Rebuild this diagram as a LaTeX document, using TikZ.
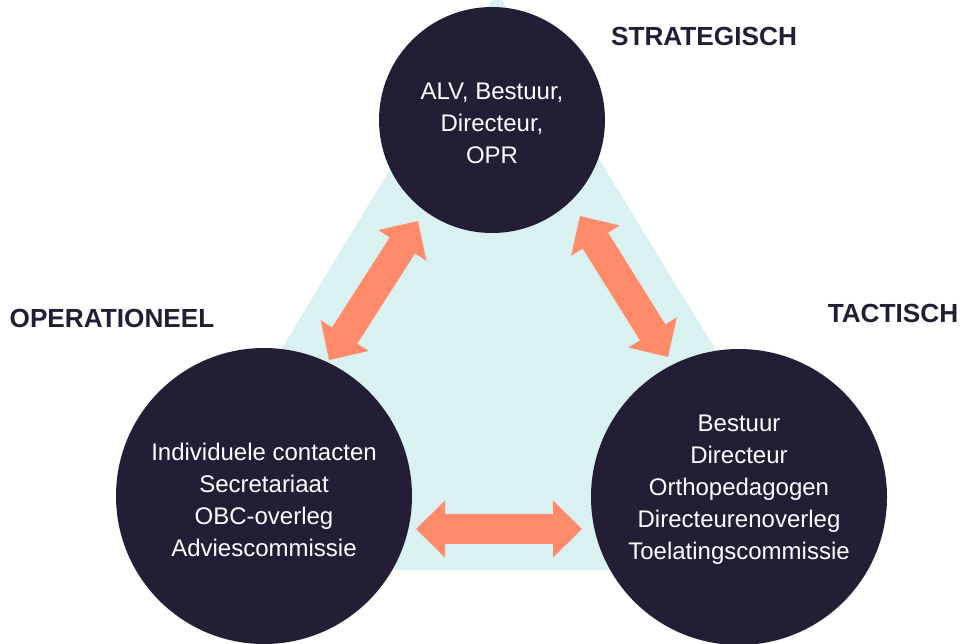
\documentclass[tikz,border=0pt]{standalone}
\usepackage{fontspec}
\setmainfont{Liberation Sans}
\usetikzlibrary{arrows.meta}
\definecolor{circfill}{HTML}{231E36}
\definecolor{trifill}{HTML}{DAF1F1}
\definecolor{arrfill}{HTML}{FF8B6A}

\begin{document}
\begin{tikzpicture}[x=1pt, y=-1pt,
	circ/.style={circle, fill=circfill, inner sep=0pt},
	txt/.style={text=white, align=center, font=\fontsize{24}{32}\selectfont},
	lbl/.style={text=circfill, font=\bfseries\fontsize{26.2}{30}\selectfont},
	arr/.style={arrfill, line width=30pt,
		{Triangle[length=29pt,width=57pt,line width=0pt]}-{Triangle[length=29pt,width=57pt,line width=0pt]}}]
	\useasboundingbox (0,0) rectangle (960,643);

	% background triangle
	\coordinate (V0) at (497,-8);
	\coordinate (V1) at (148,570);
	\coordinate (V2) at (850,570);
	\fill [trifill] (V0) -- (V1) -- (V2) -- cycle;

	% circles
	\node [circ, minimum size=226pt] (CS) at (492,120) {};
	\node [circ, minimum size=296pt] (CO) at (264,496) {};
	\node [circ, minimum size=296pt] (CT) at (739,497) {};

	\node [txt] (NS) at ([yshift=-3pt]CS.center) {ALV, Bestuur,\\Directeur,\\OPR};
	\node [txt] (NO) at ([yshift=-4pt]CO.center) {Individuele contacten\\Secretariaat\\OBC-overleg\\Adviescommissie};
	\node [txt] (NT) at ([yshift=7pt]CT.center) {Bestuur\\Directeur\\Orthopedagogen\\Directeurenoverleg\\Toelatingscommissie};

	% level labels
	\node [lbl] (LS) at (704,36) {STRATEGISCH};
	\node [lbl] (LO) at (112,318) {OPERATIONEEL};
	\node [lbl] (LT) at (893,313) {TACTISCH};

	% arrow ends
	\coordinate (PSO) at (418,221);
	\coordinate (POS) at (329,360);
	\coordinate (PST) at (580,216);
	\coordinate (PTS) at (668,357);
	\coordinate (POT) at (416,529);
	\coordinate (PTO) at (582,529);
	\draw [arr] (PSO) -- (POS);
	\draw [arr] (PST) -- (PTS);
	\draw [arr] (POT) -- (PTO);

\end{tikzpicture}
\end{document}
